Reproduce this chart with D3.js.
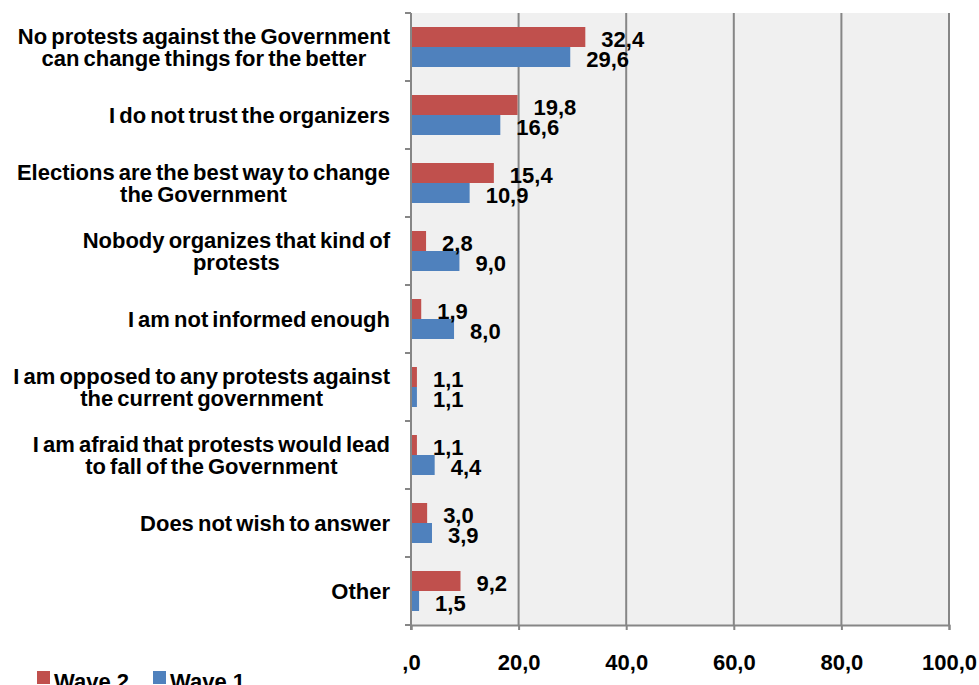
<!DOCTYPE html>
<html>
<head>
<meta charset="utf-8">
<script src="https://cdn.jsdelivr.net/npm/d3@7/dist/d3.min.js"></script>
<style>
  html, body { margin: 0; padding: 0; background: #ffffff; }
  svg { display: block; font-family: "Liberation Sans", Arial, sans-serif; font-weight: bold; }
</style>
</head>
<body>
<svg id="chart" width="979" height="685"></svg>
<script>
// Reasons for not taking part in protests, % of respondents
const categories = [
  ["No protests against the Government", "can change things for the better"],
  ["I do not trust the organizers"],
  ["Elections are the best way to change", "the Government"],
  ["Nobody organizes that kind of", "protests"],
  ["I am not informed enough"],
  ["I am opposed to any protests against", "the current government"],
  ["I am afraid that protests would lead", "to fall of the Government"],
  ["Does not wish to answer"],
  ["Other"]
];
const wave2 = [32.4, 19.8, 15.4, 2.8, 1.9, 1.1, 1.1, 3.0, 9.2];
const wave1 = [29.6, 16.6, 10.9, 9.0, 8.0, 1.1, 4.4, 3.9, 1.5];
const xTicks = [0, 20, 40, 60, 80, 100];
const seriesNames = ["Wave 2", "Wave 1"];
const seriesColors = ["#C0504D", "#4F81BD"];

const fmt = v => d3.format(".1f")(v).replace(".", ",").replace(/^0,/, ",");

const svg = d3.select("#chart");
const plot = { left: 411, right: 949, top: 13, bottom: 625 };

const x = d3.scaleLinear().domain([0, 100]).range([plot.left, plot.right]);
const y = d3.scaleBand().domain(d3.range(categories.length)).range([plot.top, plot.bottom]);
const inner = d3.scaleBand().domain([0, 1]).range([0, y.bandwidth()]).paddingOuter(0.7).paddingInner(0);

// plot background
svg.append("rect")
  .attr("x", plot.left).attr("y", plot.top)
  .attr("width", plot.right - plot.left + 1).attr("height", plot.bottom - plot.top)
  .attr("fill", "#f0f0f0");

// vertical gridlines
svg.append("g").selectAll("line").data(xTicks.slice(1)).join("line")
  .attr("x1", d => x(d)).attr("x2", d => x(d))
  .attr("y1", plot.top).attr("y2", plot.bottom)
  .attr("stroke", "#868686").attr("stroke-width", 2);

// bars
const series = [wave2, wave1];
series.forEach((vals, s) => {
  svg.append("g").selectAll("rect").data(vals).join("rect")
    .attr("x", x(0))
    .attr("y", (d, i) => y(i) + inner(s))
    .attr("width", d => x(d) - x(0))
    .attr("height", inner.bandwidth())
    .attr("fill", seriesColors[s]);
});

// bottom axis
const xAxis = d3.axisBottom(x).tickValues(xTicks).tickSize(5).tickFormat(fmt);
const gx = svg.append("g").attr("transform", `translate(0,${plot.bottom})`).call(xAxis);
gx.select(".domain").attr("stroke", "#868686").attr("stroke-width", 2);
gx.selectAll(".tick line").attr("stroke", "#868686").attr("stroke-width", 2);
gx.selectAll(".tick text")
  .attr("y", 37).attr("dy", "0.35em")
  .attr("fill", "#000").attr("font-size", 22).attr("font-weight", "bold")
  .attr("font-family", "Liberation Sans, Arial, sans-serif");

// left axis line with ticks at category boundaries
svg.append("line")
  .attr("x1", plot.left).attr("x2", plot.left)
  .attr("y1", plot.top).attr("y2", plot.bottom + 5)
  .attr("stroke", "#868686").attr("stroke-width", 2);
svg.append("g").selectAll("line").data(d3.range(categories.length + 1)).join("line")
  .attr("x1", plot.left - 6).attr("x2", plot.left)
  .attr("y1", i => plot.top + i * y.step()).attr("y2", i => plot.top + i * y.step())
  .attr("stroke", "#868686").attr("stroke-width", 2);

// category labels: centred lines, block right-aligned to the axis
const labelRight = 390, lineH = 22;
categories.forEach((lines, i) => {
  const g = svg.append("g");
  const cy = y(i) + y.bandwidth() / 2;
  const texts = lines.map((t, k) => g.append("text")
    .attr("font-size", 22).attr("text-anchor", "middle")
    .attr("word-spacing", -2)
    .attr("dy", "0.35em")
    .attr("y", cy + (k - (lines.length - 1) / 2) * lineH)
    .text(t));
  const w = d3.max(texts, t => t.node().getComputedTextLength());
  texts.forEach(t => t.attr("x", labelRight - w / 2));
});

// value labels
series.forEach((vals, s) => {
  svg.append("g").selectAll("text").data(vals).join("text")
    .attr("x", d => x(d) + 16)
    .attr("y", (d, i) => y(i) + inner(s) + inner.bandwidth() / 2 + 2)
    .attr("dy", "0.35em")
    .attr("font-size", 22)
    .text(d => fmt(d));
});

// legend
const legend = svg.append("g");
const legendX = [37, 153];
seriesNames.forEach((name, s) => {
  legend.append("rect")
    .attr("x", legendX[s]).attr("y", 671).attr("width", 13).attr("height", 13)
    .attr("fill", seriesColors[s]);
  legend.append("text")
    .attr("x", legendX[s] + 17).attr("y", 681).attr("dy", "0.35em")
    .attr("font-size", 22).text(name);
});
</script>
</body>
</html>
